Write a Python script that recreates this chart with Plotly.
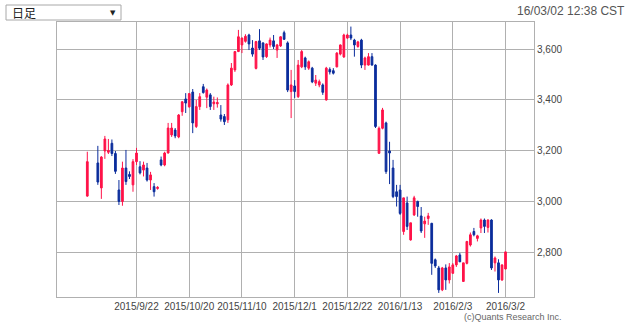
import plotly.graph_objects as go
import pandas as pd

# trading-day categories (Shanghai, 2015/8/31 - 2016/3/2)
holidays = ["2015-09-03", "2015-09-04", "2015-10-01", "2015-10-02", "2015-10-05",
            "2015-10-06", "2015-10-07", "2016-01-01", "2016-02-08", "2016-02-09",
            "2016-02-10", "2016-02-11", "2016-02-12"]
days = [d for d in pd.bdate_range("2015-08-31", "2016-03-02").strftime("%Y-%m-%d")
        if d not in holidays]

open_ = [3023, None, None, 3153, 3055, 3200, 3195, 3230, 3190, 3047,
         3002, 3133, 3108, 3067, 3158, 3138, 3125, 3133, 3086, 3060,
         3053, 3165, 3145, 3192, 3263, 3282, 3255, 3354, 3404, 3373,
         3431, 3296, 3374, 3452, 3411, 3420, 3385, 3385, 3341, 3335,
         3322, 3459, 3518, 3590, 3616, 3630, 3655, 3604, 3524, 3632,
         3624, 3570, 3616, 3632, 3596, 3612, 3664, 3624, 3433, 3455,
         3413, 3530, 3565, 3525, 3525, 3466, 3459, 3459, 3400, 3520,
         3515, 3530, 3580, 3569, 3643, 3655, 3635, 3610, 3635, 3537,
         3537, 3570, 3537, 3191, 3289, 3310, 3200, 3133, 3040, 3047,
         2884, 2996, 2851, 2949, 3002, 2945, 2914, 2935, 2916, 2773,
         2741, 2655, 2741, 2694, 2720, 2753, 2792, 2688, 2759, 2831,
         2884, 2857, 2898, 2929, 2900, 2929, 2761, 2761, 2694, 2737]
high = [3197, None, None, 3220, 3180, 3259, 3247, 3245, 3200, 3086,
        3158, 3204, 3120, 3168, 3212, 3160, 3158, 3153, 3118, 3074,
        3062, 3178, 3197, 3310, 3310, 3290, 3345, 3395, 3427, 3427,
        3443, 3400, 3427, 3463, 3445, 3427, 3413, 3410, 3380, 3345,
        3465, 3545, 3592, 3675, 3645, 3658, 3660, 3635, 3632, 3678,
        3626, 3622, 3645, 3655, 3620, 3650, 3672, 3630, 3518, 3478,
        3557, 3596, 3570, 3555, 3530, 3498, 3480, 3465, 3530, 3528,
        3525, 3588, 3618, 3660, 3660, 3688, 3640, 3632, 3640, 3570,
        3584, 3584, 3540, 3296, 3369, 3315, 3236, 3165, 3067, 3067,
        3016, 3021, 2918, 3024, 3005, 2980, 2942, 2957, 2918, 2778,
        2749, 2745, 2755, 2760, 2760, 2792, 2800, 2761, 2847, 2880,
        2898, 2871, 2935, 2935, 2932, 2932, 2786, 2775, 2755, 2804]
low = [3020, None, None, 3067, 3012, 3169, 3188, 3180, 3110, 2988,
       2985, 3067, 3090, 3040, 3145, 3108, 3100, 3080, 3047, 3021,
       3048, 3140, 3140, 3190, 3255, 3250, 3250, 3338, 3349, 3370,
       3270, 3290, 3361, 3425, 3368, 3361, 3361, 3370, 3315, 3302,
       3310, 3455, 3510, 3588, 3584, 3625, 3596, 3570, 3520, 3596,
       3557, 3565, 3606, 3600, 3565, 3608, 3636, 3431, 3329, 3408,
       3408, 3525, 3518, 3518, 3466, 3455, 3450, 3420, 3398, 3500,
       3500, 3528, 3575, 3565, 3640, 3635, 3570, 3605, 3525, 3518,
       3535, 3535, 3290, 3188, 3285, 3110, 3070, 3015, 2982, 2949,
       2871, 2890, 2848, 2945, 2942, 2878, 2859, 2910, 2714, 2741,
       2643, 2650, 2655, 2680, 2718, 2745, 2778, 2686, 2755, 2825,
       2865, 2845, 2878, 2878, 2880, 2733, 2727, 2643, 2690, 2735]
close = [3158, None, None, 3078, 3176, 3247, 3202, 3190, 3120, 3002,
         3133, 3080, 3100, 3158, 3192, 3114, 3145, 3086, 3106, 3040,
         3057, 3145, 3192, 3290, 3290, 3259, 3341, 3393, 3388, 3425,
         3310, 3374, 3413, 3429, 3439, 3374, 3392, 3390, 3325, 3315,
         3459, 3525, 3590, 3648, 3643, 3650, 3620, 3580, 3629, 3603,
         3569, 3620, 3635, 3610, 3616, 3648, 3638, 3439, 3459, 3433,
         3537, 3590, 3530, 3550, 3471, 3478, 3472, 3430, 3525, 3510,
         3505, 3584, 3616, 3655, 3655, 3643, 3616, 3628, 3537, 3565,
         3570, 3537, 3296, 3289, 3361, 3119, 3192, 3021, 3021, 2955,
         3016, 2904, 2918, 3016, 2982, 2886, 2925, 2945, 2759, 2749,
         2655, 2741, 2694, 2745, 2753, 2788, 2765, 2761, 2845, 2871,
         2871, 2867, 2929, 2904, 2929, 2741, 2780, 2694, 2753, 2804]

tick_dates = ["2015-09-22", "2015-10-20", "2015-11-10", "2015-12-01",
              "2015-12-22", "2016-01-13", "2016-02-03", "2016-03-02"]
tick_text = ["2015/9/22", "2015/10/20", "2015/11/10", "2015/12/1",
             "2015/12/22", "2016/1/13", "2016/2/3", "2016/3/2"]
y_ticks = [2800, 3000, 3200, 3400, 3600]

UP = "#ff1248"
DOWN = "#0b2d9c"

keep = [i for i in range(len(days)) if open_[i] is not None]

fig = go.Figure(go.Candlestick(
    x=[days[i] for i in keep],
    open=[open_[i] for i in keep],
    high=[high[i] for i in keep],
    low=[low[i] for i in keep],
    close=[close[i] for i in keep],
    increasing=dict(line=dict(color=UP, width=1), fillcolor=UP),
    decreasing=dict(line=dict(color=DOWN, width=1), fillcolor=DOWN),
    whiskerwidth=0,
    hoverinfo="skip",
))

L, R, T, B = 57, 534, 22, 297
W, H = 640, 328


def px(x):
    return (x - L) / (R - L)


def py(y):
    return (B - y) / (B - T)


fig.update_layout(
    width=W, height=H,
    margin=dict(l=L, r=W - R, t=T, b=H - B),
    paper_bgcolor="white", plot_bgcolor="white",
    showlegend=False,
    font=dict(family="Liberation Sans, Arial, sans-serif", size=10, color="#444"),
    xaxis=dict(
        type="category", categoryorder="array", categoryarray=days,
        range=[-8.62, 127.1],
        tickvals=tick_dates, ticktext=tick_text,
        showgrid=True, gridcolor="#b0b0b0", gridwidth=1,
        showline=True, linecolor="#b0b0b0", linewidth=1, mirror=True,
        ticks="", tickfont=dict(size=10, color="#444"),
        rangeslider=dict(visible=False), fixedrange=True,
    ),
    yaxis=dict(
        side="right", range=[2627, 3706],
        tickvals=y_ticks, tickformat=",",
        showgrid=True, gridcolor="#b0b0b0", gridwidth=1,
        showline=True, linecolor="#b0b0b0", linewidth=1, mirror=True,
        ticks="", tickfont=dict(size=10, color="#444"),
        zeroline=False, fixedrange=True,
    ),
    shapes=[dict(type="rect", xref="paper", yref="paper",
                 x0=px(6), x1=px(121), y0=py(20), y1=py(5),
                 line=dict(color="#a8a8a8", width=1), fillcolor="white", layer="above")],
    annotations=[
        dict(text="日足", xref="paper", yref="paper", x=px(10), y=py(12.5),
             xanchor="left", yanchor="middle", showarrow=False,
             font=dict(family="Noto Sans CJK JP", size=12, color="#222")),
        dict(text="▼", xref="paper", yref="paper", x=px(113), y=py(12.5),
             xanchor="center", yanchor="middle", showarrow=False,
             font=dict(family="DejaVu Sans", size=7, color="#222")),
        dict(text="16/03/02 12:38 CST", xref="paper", yref="paper", x=px(627), y=py(11),
             xanchor="right", yanchor="middle", showarrow=False,
             font=dict(size=12, color="#555")),
        dict(text="(c)Quants Research Inc.", xref="paper", yref="paper", x=px(564), y=py(317),
             xanchor="right", yanchor="middle", showarrow=False,
             font=dict(size=9, color="#666")),
    ],
)

fig.write_html("out.html", config=dict(displayModeBar=False))
